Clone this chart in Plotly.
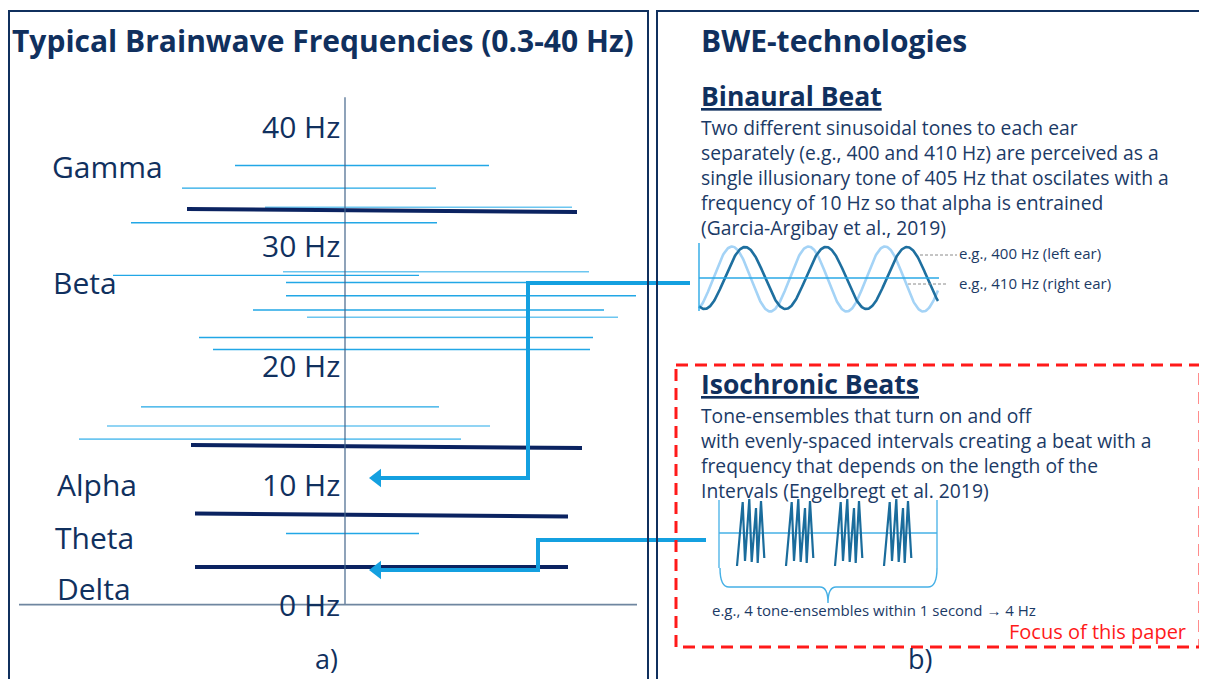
import numpy as np
import plotly.graph_objects as go

# ---------------- data ----------------
# frequency axis ticks
tick_hz = [0, 10, 20, 30, 40]
tick_text = ["0 Hz", "10 Hz", "20 Hz", "30 Hz", "40 Hz"]

# brainwave bands (label, label position in Hz)
band_names = ["Gamma", "Beta", "Alpha", "Theta", "Delta"]
band_label_hz = [36.6, 26.9, 10.0, 5.6, 1.3]

# band boundaries (Hz at left end / right end) and horizontal extents
bound_hz_left = [33.05, 13.3, 7.57, 3.1]
bound_hz_right = [32.8, 13.05, 7.32, 3.1]
bound_x0 = [187, 191, 195, 195]
bound_x1 = [577, 582, 568, 568]

# reported stimulation frequencies (Hz) with horizontal extents
study_hz = [36.7, 34.8, 31.9, 27.5, 26.9, 25.8, 24.6, 22.3, 21.3, 16.5, 5.9]
study_x0 = [235, 182, 131, 113, 286, 286, 253, 199, 213, 141, 286]
study_x1 = [489, 436, 437, 419, 600, 636, 604, 593, 590, 439, 419]
study_light_hz = [33.2, 27.8, 24.0, 14.9, 13.8]
study_light_x0 = [265, 283, 307, 107, 79]
study_light_x1 = [572, 589, 618, 490, 461]

# entrainment targets (Hz) pointed to by the technologies
binaural_target_hz = 10.54
isochronic_target_hz = 2.85

# sine illustration (period px, phase px, amplitude px)
wave_left = dict(period=81, peak=745, amp=31, mid=278)
wave_right = dict(period=76.5, peak=732, amp=32.5, mid=279)

# isochronic bursts: burst start positions and zigzag pattern
burst_x = [737, 786, 835, 884]
zig_dx = [0, 5.7, 8, 12.3, 14.7, 19, 20.7, 24, 27.3]
zig_y = [566, 502, 561, 499, 562, 508, 563, 501, 558]

NAVY = "#10305e"
TEXT = "#1b3a66"
LIGHT = "#22a7e6"
LIGHTER = "#6cc6f0"
BAND = "#0b2361"
CONN = "#14a0e0"
FONT = "Open Sans"

# page offset (browser body margin) compensation
OFF = 8
W, H = 1207, 679
PX_PER_HZ = 11.95
ZERO_PX = 604

fig = go.Figure()

def seg(x0s, x1s, y0s, y1s):
    xs, ys = [], []
    for a, b, c, d in zip(x0s, x1s, y0s, y1s):
        xs += [a, b, None]
        ys += [c, d, None]
    return xs, ys

# ---- left chart ----
xs, ys = seg(study_x0, study_x1, study_hz, study_hz)
fig.add_trace(go.Scatter(x=xs, y=ys, mode="lines", line=dict(color=LIGHT, width=1.4), hoverinfo="skip"))
xs, ys = seg(study_light_x0, study_light_x1, study_light_hz, study_light_hz)
fig.add_trace(go.Scatter(x=xs, y=ys, mode="lines", line=dict(color=LIGHTER, width=1.6), hoverinfo="skip"))
xs, ys = seg(bound_x0, bound_x1, bound_hz_left, bound_hz_right)
fig.add_trace(go.Scatter(x=xs, y=ys, mode="lines", line=dict(color=BAND, width=4), hoverinfo="skip"))

fig.add_trace(go.Scatter(x=[345, 345], y=[0, 42.4], mode="lines", line=dict(color="#44658a", width=1.2), hoverinfo="skip"))
fig.add_trace(go.Scatter(x=[19, 637], y=[-0.05, -0.05], mode="lines", line=dict(color="#6f86a0", width=1.6), hoverinfo="skip"))

# connectors
b_start_hz = 26.86
i_start_hz = 5.36
fig.add_trace(go.Scatter(x=[690, 528, 528, 380], y=[b_start_hz, b_start_hz, binaural_target_hz, binaural_target_hz],
                         mode="lines", line=dict(color=CONN, width=4), hoverinfo="skip"))
fig.add_trace(go.Scatter(x=[706, 538, 538, 380], y=[i_start_hz, i_start_hz, isochronic_target_hz, isochronic_target_hz],
                         mode="lines", line=dict(color=CONN, width=4), hoverinfo="skip"))
fig.add_trace(go.Scatter(x=[377, 377], y=[binaural_target_hz, isochronic_target_hz], mode="markers",
                         marker=dict(symbol="triangle-left", size=16, color=CONN), hoverinfo="skip"))

# ---- right graphics (pixel axis y2) ----
wx = np.linspace(699, 938, 400)
for w, col in [(wave_right, "#a4d3f6"), (wave_left, "#1e6f9f")]:
    wy = w["mid"] - w["amp"] * np.cos(2 * np.pi * (wx - w["peak"]) / w["period"])
    fig.add_trace(go.Scatter(x=wx, y=wy, yaxis="y2", mode="lines", line=dict(color=col, width=2.6), hoverinfo="skip"))
fig.add_trace(go.Scatter(x=[699, 699, None, 699, 939], y=[243, 311, None, 278, 278], yaxis="y2", mode="lines",
                         line=dict(color="#2aa8e6", width=1.4), hoverinfo="skip"))
fig.add_trace(go.Scatter(x=[920, 957, None, 908, 948], y=[255, 255, None, 284, 284], yaxis="y2", mode="lines",
                         line=dict(color="#8a8a8a", width=1, dash="3px,2px"), hoverinfo="skip"))

fig.add_trace(go.Scatter(x=[719, 719, None, 937, 937, None, 719, 937], y=[500, 568, None, 500, 568, None, 533, 533],
                         yaxis="y2", mode="lines", line=dict(color="#45b0e6", width=1.3), hoverinfo="skip"))
bx, by = [], []
for s in burst_x:
    bx += [s + d for d in zig_dx] + [None]
    by += zig_y + [None]
fig.add_trace(go.Scatter(x=bx, y=by, yaxis="y2", mode="lines", line=dict(color="#1a6c9c", width=2.2), hoverinfo="skip"))

shapes = [
    dict(type="rect", xref="x", yref="y2", x0=9, x1=648, y0=11, y1=720, line=dict(color=NAVY, width=2)),
    dict(type="rect", xref="x", yref="y2", x0=657, x1=1230, y0=11, y1=720, line=dict(color=NAVY, width=2)),
    dict(type="rect", xref="x", yref="y2", x0=676, x1=1200, y0=365, y1=647,
         line=dict(color="#ff1a1a", width=3, dash="12px,7px")),
    dict(type="path", xref="x", yref="y2",
         path="M720,568 Q720,587 729,587 L820,587 Q828,587 828,603 Q828,587 836,587 L928,587 Q937,587 937,568",
         line=dict(color="#45b0e6", width=1.4)),
]

ann = []
def A(text, x, y, size, color=TEXT, xanchor="left", yref="y2", bold=False, family=FONT, yanchor="middle"):
    if bold:
        text = "<b>" + text + "</b>"
    ann.append(dict(text=text, x=x, y=y, xref="x", yref=yref, xanchor=xanchor, yanchor=yanchor, align="left",
                    showarrow=False, font=dict(family=family, size=size, color=color)))

A("Typical Brainwave Frequencies (0.3-40 Hz)", 10, 40, 30, NAVY, bold=True)
A("BWE-technologies", 699, 40, 30, NAVY, bold=True)
for t, h in zip(tick_text, tick_hz):
    A(t, 342, h, 30, NAVY, xanchor="right", yref="y")
for n, h, x in zip(band_names, band_label_hz, [50, 51, 55, 53, 55]):
    A(n, x, h, 30, NAVY, yref="y")

A("<u>Binaural Beat</u>", 699, 95.5, 26.5, NAVY, bold=True)
bin_lines = ["Two different sinusoidal tones to each ear",
             "separately (e.g., 400 and 410 Hz) are perceived as a",
             "single illusionary tone of 405 Hz that oscilates with a",
             "frequency of 10 Hz so that alpha is entrained",
             "(Garcia-Argibay et al., 2019)"]
A("<br>".join(bin_lines), 699, 177.5, 19.3)
A("e.g., 400 Hz (left ear)", 957, 253, 15)
A("e.g., 410 Hz (right ear)", 957, 283, 15)

A("<u>Isochronic Beats</u>", 699, 383.5, 26.5, NAVY, bold=True)
iso_lines = ["Tone-ensembles that turn on and off",
             "with evenly-spaced intervals creating a beat with a",
             "frequency that depends on the length of the",
             "Intervals (Engelbregt et al. 2019)"]
A("<br>".join(iso_lines), 699, 452.5, 19.3)
A("e.g., 4 tone-ensembles within 1 second <b>\u2192</b> 4 Hz", 710, 610, 15)
A("Focus of this paper", 1188, 631, 20, "#ff1a1a", xanchor="right")
A("a)", 326, 679, 27, NAVY, xanchor="center", yanchor="bottom")
A("b)", 920, 679, 27, NAVY, xanchor="center", yanchor="bottom")

fig.update_layout(
    width=W - OFF, height=H - OFF, margin=dict(l=0, r=0, t=0, b=0),
    paper_bgcolor="white", plot_bgcolor="white", showlegend=False,
    xaxis=dict(range=[OFF, W], visible=False, fixedrange=True),
    yaxis=dict(range=[(ZERO_PX - H) / PX_PER_HZ, (ZERO_PX - OFF) / PX_PER_HZ], visible=False, fixedrange=True),
    yaxis2=dict(range=[H, OFF], visible=False, overlaying="y", fixedrange=True),
    shapes=shapes, annotations=ann,
)
fig.write_html("out.html")
